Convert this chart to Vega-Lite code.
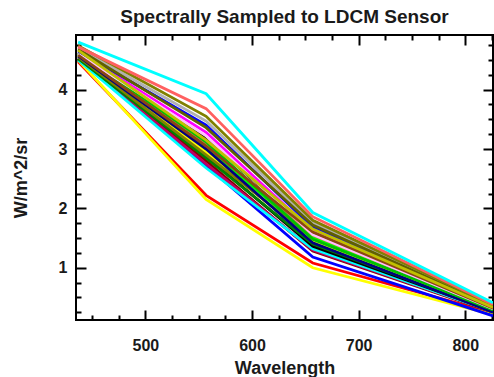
{
  "$schema": "https://vega.github.io/schema/vega-lite/v6.json",
  "width": 417,
  "height": 285,
  "autosize": "none",
  "padding": {"left": 76, "top": 35, "right": 1, "bottom": 57},
  "background": "white",
  "title": {"text": "Spectrally Sampled to LDCM Sensor", "font": "Liberation Sans", "fontSize": 19, "fontWeight": "bold", "color": "#1a1a1a", "anchor": "middle", "offset": 7},
  "config": {
    "view": {"stroke": "#000000", "strokeWidth": 2},
    "axis": {
      "grid": false,
      "domain": false,
      "tickColor": "#000000",
      "tickWidth": 2,
      "labelFont": "Liberation Sans",
      "labelFontWeight": "bold",
      "labelFontSize": 16,
      "labelColor": "#1a1a1a",
      "titleFont": "Liberation Sans",
      "titleFontWeight": "bold",
      "titleFontSize": 18,
      "titleColor": "#1a1a1a"
    }
  },
  "data": {"values": [
    {"s": "s01", "w": 437, "v": 4.47}, {"s": "s01", "w": 557, "v": 2.22}, {"s": "s01", "w": 657, "v": 1.08}, {"s": "s01", "w": 826, "v": 0.24},
    {"s": "s02", "w": 437, "v": 4.5}, {"s": "s02", "w": 557, "v": 2.15}, {"s": "s02", "w": 657, "v": 1.0}, {"s": "s02", "w": 826, "v": 0.21},
    {"s": "s03", "w": 437, "v": 4.55}, {"s": "s03", "w": 557, "v": 2.72}, {"s": "s03", "w": 657, "v": 1.18}, {"s": "s03", "w": 826, "v": 0.19},
    {"s": "s04", "w": 437, "v": 4.5}, {"s": "s04", "w": 557, "v": 2.8}, {"s": "s04", "w": 657, "v": 1.28}, {"s": "s04", "w": 826, "v": 0.25},
    {"s": "s05", "w": 437, "v": 4.52}, {"s": "s05", "w": 557, "v": 2.75}, {"s": "s05", "w": 657, "v": 1.3}, {"s": "s05", "w": 826, "v": 0.26},
    {"s": "s06", "w": 437, "v": 4.5}, {"s": "s06", "w": 557, "v": 2.68}, {"s": "s06", "w": 657, "v": 1.32}, {"s": "s06", "w": 826, "v": 0.26},
    {"s": "s07", "w": 437, "v": 4.53}, {"s": "s07", "w": 557, "v": 2.88}, {"s": "s07", "w": 657, "v": 1.36}, {"s": "s07", "w": 826, "v": 0.27},
    {"s": "s08", "w": 437, "v": 4.52}, {"s": "s08", "w": 557, "v": 2.85}, {"s": "s08", "w": 657, "v": 1.4}, {"s": "s08", "w": 826, "v": 0.27},
    {"s": "s09", "w": 437, "v": 4.58}, {"s": "s09", "w": 557, "v": 2.95}, {"s": "s09", "w": 657, "v": 1.45}, {"s": "s09", "w": 826, "v": 0.28},
    {"s": "s10", "w": 437, "v": 4.55}, {"s": "s10", "w": 557, "v": 2.9}, {"s": "s10", "w": 657, "v": 1.5}, {"s": "s10", "w": 826, "v": 0.3},
    {"s": "s11", "w": 437, "v": 4.6}, {"s": "s11", "w": 557, "v": 3.02}, {"s": "s11", "w": 657, "v": 1.52}, {"s": "s11", "w": 826, "v": 0.29},
    {"s": "s12", "w": 437, "v": 4.57}, {"s": "s12", "w": 557, "v": 3.0}, {"s": "s12", "w": 657, "v": 1.42}, {"s": "s12", "w": 826, "v": 0.25},
    {"s": "s13", "w": 437, "v": 4.62}, {"s": "s13", "w": 557, "v": 3.08}, {"s": "s13", "w": 657, "v": 1.55}, {"s": "s13", "w": 826, "v": 0.31},
    {"s": "s14", "w": 437, "v": 4.63}, {"s": "s14", "w": 557, "v": 3.28}, {"s": "s14", "w": 657, "v": 1.62}, {"s": "s14", "w": 826, "v": 0.31},
    {"s": "s15", "w": 437, "v": 4.6}, {"s": "s15", "w": 557, "v": 3.18}, {"s": "s15", "w": 657, "v": 1.58}, {"s": "s15", "w": 826, "v": 0.3},
    {"s": "s16", "w": 437, "v": 4.62}, {"s": "s16", "w": 557, "v": 3.12}, {"s": "s16", "w": 657, "v": 1.48}, {"s": "s16", "w": 826, "v": 0.29},
    {"s": "s17", "w": 437, "v": 4.6}, {"s": "s17", "w": 557, "v": 3.22}, {"s": "s17", "w": 657, "v": 1.56}, {"s": "s17", "w": 826, "v": 0.31},
    {"s": "s18", "w": 437, "v": 4.65}, {"s": "s18", "w": 557, "v": 3.4}, {"s": "s18", "w": 657, "v": 1.68}, {"s": "s18", "w": 826, "v": 0.33},
    {"s": "s19", "w": 437, "v": 4.7}, {"s": "s19", "w": 557, "v": 3.47}, {"s": "s19", "w": 657, "v": 1.76}, {"s": "s19", "w": 826, "v": 0.35},
    {"s": "s20", "w": 437, "v": 4.68}, {"s": "s20", "w": 557, "v": 3.36}, {"s": "s20", "w": 657, "v": 1.72}, {"s": "s20", "w": 826, "v": 0.34},
    {"s": "s21", "w": 437, "v": 4.74}, {"s": "s21", "w": 557, "v": 3.55}, {"s": "s21", "w": 657, "v": 1.8}, {"s": "s21", "w": 826, "v": 0.37},
    {"s": "s22", "w": 437, "v": 4.72}, {"s": "s22", "w": 557, "v": 3.68}, {"s": "s22", "w": 657, "v": 1.86}, {"s": "s22", "w": 826, "v": 0.38},
    {"s": "s23", "w": 437, "v": 4.8}, {"s": "s23", "w": 557, "v": 3.93}, {"s": "s23", "w": 657, "v": 1.93}, {"s": "s23", "w": 826, "v": 0.41},
    {"s": "s24", "w": 437, "v": 4.58}, {"s": "s24", "w": 557, "v": 3.05}, {"s": "s24", "w": 657, "v": 1.6}, {"s": "s24", "w": 826, "v": 0.32},
    {"s": "s25", "w": 437, "v": 4.66}, {"s": "s25", "w": 557, "v": 3.15}, {"s": "s25", "w": 657, "v": 1.65}, {"s": "s25", "w": 826, "v": 0.33}
  ]},
  "layer": [
    {
      "mark": {"type": "line", "strokeWidth": 2.8, "clip": true},
      "encoding": {
        "x": {"field": "w", "type": "quantitative", "scale": {"domain": [435, 826], "nice": false, "zero": false},
          "axis": {"orient": "bottom", "title": "Wavelength", "values": [450, 475, 500, 525, 550, 575, 600, 625, 650, 675, 700, 725, 750, 775, 800, 825],
            "labelExpr": "datum.value % 100 === 0 ? datum.label : ''",
            "tickSize": {"condition": {"test": "datum.value % 100 === 0", "value": -10}, "value": -5},
            "labelPadding": 27, "titlePadding": 6, "labelFlush": false}},
        "y": {"field": "v", "type": "quantitative", "scale": {"domain": [0.12, 4.92], "nice": false, "zero": false},
          "axis": {"orient": "left", "title": "W/m^2/sr", "format": ".0f", "values": [0.25, 0.5, 0.75, 1, 1.25, 1.5, 1.75, 2, 2.25, 2.5, 2.75, 3, 3.25, 3.5, 3.75, 4, 4.25, 4.5, 4.75],
            "labelExpr": "datum.value % 1 === 0 ? datum.label : ''",
            "tickSize": {"condition": {"test": "datum.value % 1 === 0", "value": -10}, "value": -5},
            "labelPadding": 19, "titlePadding": 28, "labelFlush": false}},
        "color": {"field": "s", "type": "nominal", "legend": null,
          "scale": {"domain": ["s01", "s02", "s03", "s04", "s05", "s06", "s07", "s08", "s09", "s10", "s11", "s12", "s13", "s14", "s15", "s16", "s17", "s18", "s19", "s20", "s21", "s22", "s23", "s24", "s25"],
            "range": ["#ff0000", "#ffff00", "#0000ff", "#800000", "#c00060", "#00ffff", "#000000", "#008000", "#ffff00", "#808000", "#00ff00", "#000080", "#c08040", "#ff00ff", "#000000", "#00c000", "#ffc0ff", "#0000ff", "#b0b0b0", "#606000", "#808000", "#ff6060", "#00ffff", "#8b4513", "#c0c000"]}}
      }
    },
    {
      "mark": {"type": "line", "opacity": 0, "clip": true},
      "encoding": {
        "x": {"field": "w", "type": "quantitative",
          "axis": {"orient": "top", "title": null, "labels": false, "values": [450, 475, 500, 525, 550, 575, 600, 625, 650, 675, 700, 725, 750, 775, 800, 825],
            "tickSize": {"condition": {"test": "datum.value % 100 === 0", "value": -10}, "value": -5}}},
        "y": {"field": "v", "type": "quantitative",
          "axis": {"orient": "right", "title": null, "labels": false, "values": [0.25, 0.5, 0.75, 1, 1.25, 1.5, 1.75, 2, 2.25, 2.5, 2.75, 3, 3.25, 3.5, 3.75, 4, 4.25, 4.5, 4.75],
            "tickSize": {"condition": {"test": "datum.value % 1 === 0", "value": -10}, "value": -5}}},
        "detail": {"field": "s"}
      }
    }
  ],
  "resolve": {"axis": {"x": "independent", "y": "independent"}}
}
